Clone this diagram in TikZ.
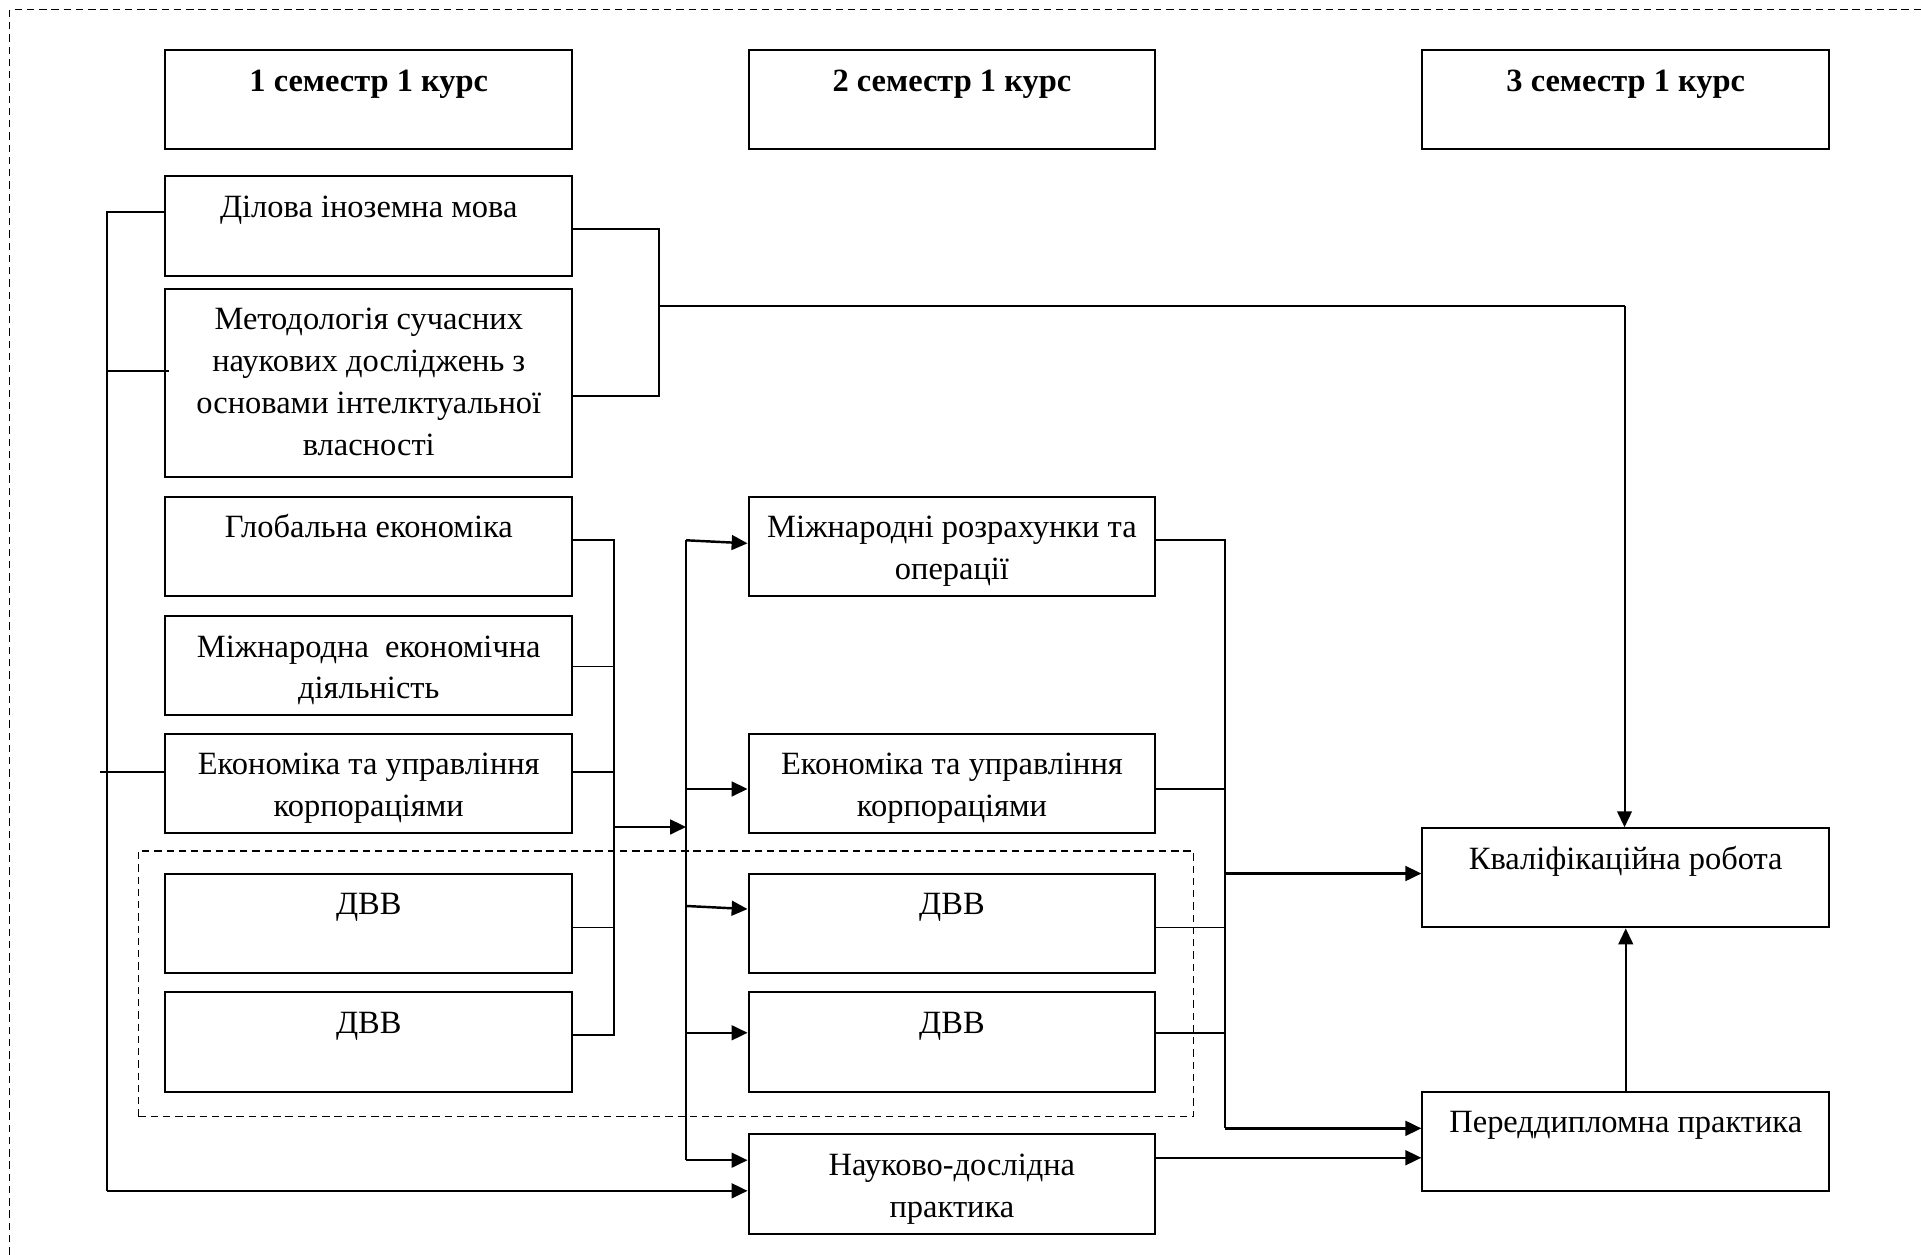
\documentclass[tikz,border=0pt]{standalone}
\usepackage{fontspec}
\setmainfont{Liberation Serif}
\usetikzlibrary{arrows.meta}
\begin{document}
\begin{tikzpicture}[x=1pt,y=-1pt,
  box/.style={draw, line width=1.6pt, minimum width=332pt, minimum height=81pt, inner sep=0pt},
  txt/.style={anchor=north, inner sep=0pt, align=center, font=\fontsize{26.5}{34.2}\selectfont},
  htxt/.style={anchor=north, inner sep=0pt, align=center, font=\fontsize{26.5}{34.2}\selectfont\bfseries},
  ln/.style={line width=1.5pt},
  arr/.style={line width=2pt, -{Triangle[length=13pt,width=12pt]}},
  frame/.style={line width=1.1pt, dash pattern=on 6pt off 4pt},
  grp/.style={draw, line width=1.2pt, dash pattern=on 6pt off 4pt, inner sep=0pt}]
\useasboundingbox (0,0) rectangle (1568,1024);

% outer dashed frame
\coordinate (F1) at (8,1024);
\coordinate (F2) at (8,8);
\coordinate (F3) at (1568,8);
\draw[frame] (F1) -- (F2) -- (F3);

% inner dashed group
\node[grp, minimum width=861pt, minimum height=217pt] (grp) at (543.5,803) {};

% headers
\node[box] (h1) at (301,81.5) {};
\node[box] (h2) at (777,81.5) {};
\node[box] (h3) at (1327,81.5) {};
\node[htxt] (h1t) at ([yshift=-10pt]h1.north) {\strut 1 семестр 1 курс};
\node[htxt] (h2t) at ([yshift=-10pt]h2.north) {\strut 2 семестр 1 курс};
\node[htxt] (h3t) at ([yshift=-10pt]h3.north) {\strut 3 семестр 1 курс};

% column 1
\node[box] (dilova) at (301,184.5) {};
\node[box, minimum height=153pt] (metod) at (301,312.5) {};
\node[box] (glob) at (301,446) {};
\node[box] (mied) at (301,543.5) {};
\node[box] (eku1) at (301,639.5) {};
\node[box] (dvv1) at (301,753.5) {};
\node[box] (dvv2) at (301,850.5) {};

\node[txt] (dilovat) at ([yshift=-10pt]dilova.north) {\strut Ділова іноземна мова};
\node[txt] (metodt) at ([yshift=-10pt]metod.north) {\strut Методологія сучасних\\наукових досліджень з\\основами інтелктуальної\\власності};
\node[txt] (globt) at ([yshift=-10pt]glob.north) {\strut Глобальна економіка};
\node[txt] (miedt) at ([yshift=-10pt]mied.north) {\strut Міжнародна\ \ економічна\\діяльність};
\node[txt] (eku1t) at ([yshift=-10pt]eku1.north) {\strut Економіка та управління\\корпораціями};
\node[txt] (dvv1t) at ([yshift=-10pt]dvv1.north) {\strut ДВВ};
\node[txt] (dvv2t) at ([yshift=-10pt]dvv2.north) {\strut ДВВ};

% column 2
\node[box] (mrop) at (777,446) {};
\node[box] (eku2) at (777,639.5) {};
\node[box] (dvv3) at (777,753.5) {};
\node[box] (dvv4) at (777,850.5) {};
\node[box] (nauk) at (777,966.5) {};

\node[txt] (mropt) at ([yshift=-10pt]mrop.north) {\strut Міжнародні розрахунки та\\операції};
\node[txt] (eku2t) at ([yshift=-10pt]eku2.north) {\strut Економіка та управління\\корпораціями};
\node[txt] (dvv3t) at ([yshift=-10pt]dvv3.north) {\strut ДВВ};
\node[txt] (dvv4t) at ([yshift=-10pt]dvv4.north) {\strut ДВВ};
\node[txt] (naukt) at ([yshift=-10pt]nauk.north) {\strut Науково-дослідна\\практика};

% column 3
\node[box] (kval) at (1327,716.5) {};
\node[box] (pered) at (1327,931.5) {};
\node[txt] (kvalt) at ([yshift=-10pt]kval.north) {\strut Кваліфікаційна робота};
\node[txt] (peredt) at ([yshift=-10pt]pered.north) {\strut Переддипломна практика};

% ---- left bus
\coordinate (Ltop) at (87,173);
\coordinate (Lm) at (87,303);
\coordinate (Le) at (82,630);
\coordinate (Lbot) at (87,972);
\draw[ln] (dilova.west |- Ltop) -- (Ltop) -- (Lbot);
\draw[ln] (Lm) -- ([xshift=4pt]metod.west |- Lm);
\draw[ln] (Le) -- (eku1.west |- Le);
\draw[arr] (Lbot) -- (nauk.west |- Lbot);

% ---- top right loop to qualification work
\coordinate (Ra) at (538,187);
\coordinate (Rb) at (538,323);
\coordinate (Rc) at (538,250);
\coordinate (Rd) at (1326,250);
\draw[ln] (dilova.east |- Ra) -- (Ra) -- (Rb) -- (metod.east |- Rb);
\draw[ln] (Rc) -- (Rd);
\draw[line width=1.6pt, -{Triangle[length=13pt,width=12pt]}] (Rd) -- (Rd |- kval.north);

% ---- column 1 right bus
\coordinate (B1) at (501,441);
\coordinate (B2) at (501,544);
\coordinate (B3) at (501,630);
\coordinate (B4) at (501,757);
\coordinate (B5) at (501,845);
\coordinate (B6) at (501,675);
\draw[ln] (glob.east |- B1) -- (B1) -- (B5) -- (dvv2.east |- B5);
\draw[ln] (mied.east |- B2) -- (B2);
\draw[ln] (eku1.east |- B3) -- (B3);
\draw[ln] (dvv1.east |- B4) -- (B4);

% ---- column 2 left bus
\coordinate (C1) at (560,441);
\coordinate (C2) at (560,644);
\coordinate (C3) at (560,739.5);
\coordinate (C4) at (560,843);
\coordinate (C5) at (560,947);
\coordinate (C6) at (560,675);
\draw[arr] (B6) -- (C6);
\draw[ln] (C1) -- (C5);
\draw[arr] (C1) -- ([yshift=2.5pt]mrop.west);
\draw[arr] (C2) -- (eku2.west |- C2);
\draw[arr] (C3) -- ([yshift=11.5pt]dvv3.west);
\draw[arr] (C4) -- (dvv4.west |- C4);
\draw[arr] (C5) -- (nauk.west |- C5);

% ---- column 2 right bus
\coordinate (D1) at (1000,441);
\coordinate (D2) at (1000,644);
\coordinate (D3) at (1000,757);
\coordinate (D4) at (1000,843);
\coordinate (D5) at (1000,713);
\coordinate (D6) at (1000,921);
\draw[ln] (mrop.east |- D1) -- (D1) -- (D6);
\draw[ln] (eku2.east |- D2) -- (D2);
\draw[ln] (dvv3.east |- D3) -- (D3);
\draw[ln] (dvv4.east |- D4) -- (D4);
\draw[arr] (D5) -- (kval.west |- D5);
\draw[arr] (D6) -- (pered.west |- D6);

% ---- research practice to pre-diploma practice
\path ([yshift=21.5pt]nauk.east) coordinate (E1);
\draw[arr] (E1) -- (pered.west |- E1);

% ---- pre-diploma practice to qualification work
\draw[line width=1.6pt, -{Triangle[length=13pt,width=12pt]}] (pered.north) -- (kval.south);
\end{tikzpicture}
\end{document}
